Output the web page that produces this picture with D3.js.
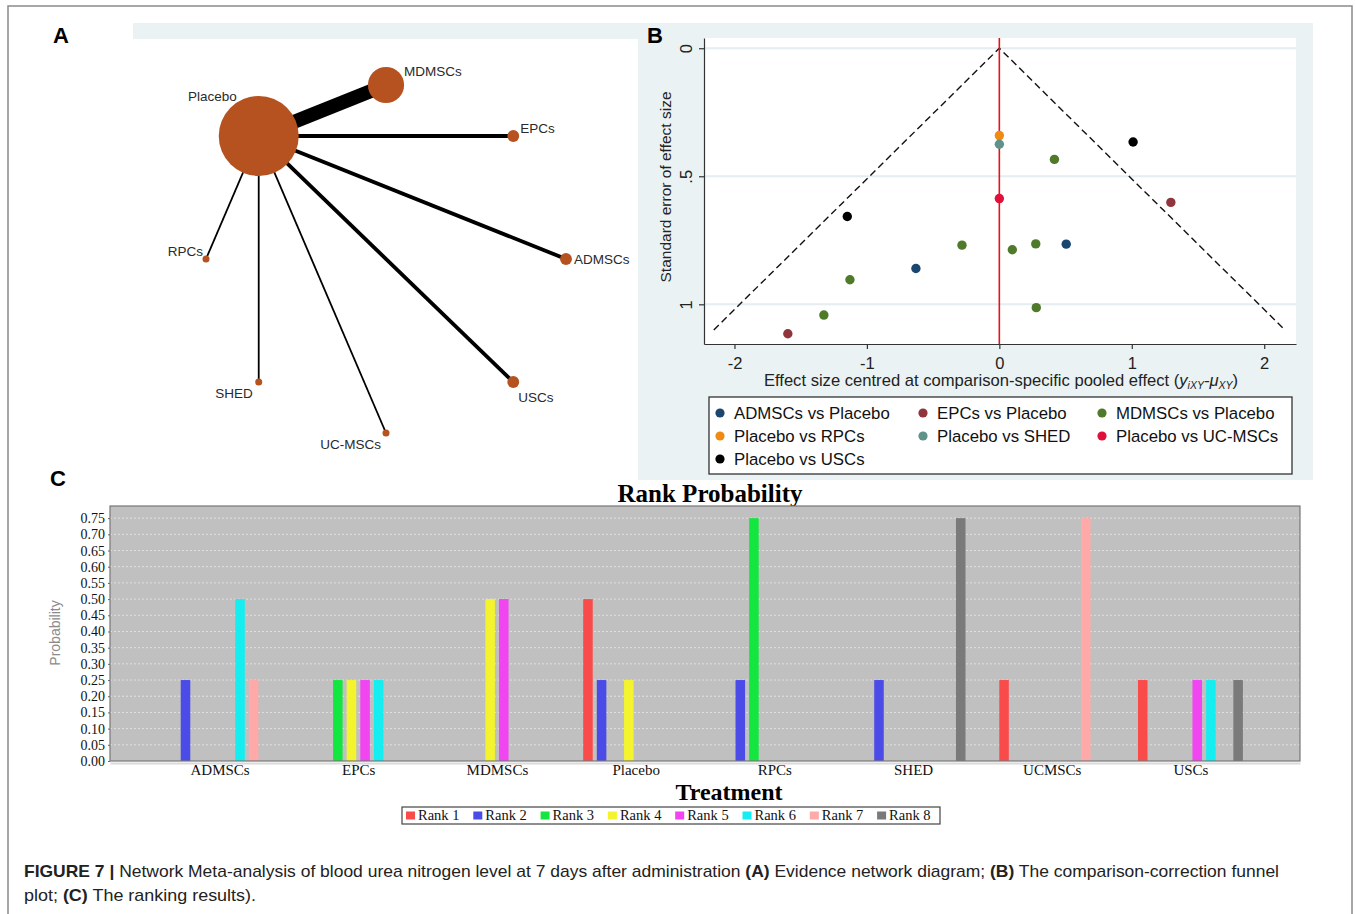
<!DOCTYPE html>
<html>
<head>
<meta charset="utf-8">
<script src="https://cdn.jsdelivr.net/npm/d3@7"></script>
<style>
  body { margin: 0; background: #fff; }
  svg { display: block; }
</style>
</head>
<body>
<svg id="fig" width="1356" height="914"></svg>
<script>
// ---------- panel A: evidence network ----------
var netNodes    = ["Placebo", "MDMSCs", "EPCs", "ADMSCs", "USCs", "UC-MSCs", "SHED", "RPCs"];
var netStudies  = [16, 7, 2, 2, 2, 1, 1, 1];
var edgeTargets = ["MDMSCs", "EPCs", "ADMSCs", "USCs", "UC-MSCs", "SHED", "RPCs"];
var edgeStudies = [7, 2, 2, 2, 1, 1, 1];

// ---------- panel B: comparison-adjusted funnel plot ----------
var funnelComparisons = ["ADMSCs vs Placebo", "EPCs vs Placebo", "MDMSCs vs Placebo",
                         "Placebo vs RPCs", "Placebo vs SHED", "Placebo vs UC-MSCs", "Placebo vs USCs"];
// [effect centred, standard error]
var admscsPoints = [[-0.63, 0.86], [0.505, 0.765]];
var epcsPoints   = [[1.295, 0.602], [-1.597, 1.115]];
var mdmscsPoints = [[0.416, 0.434], [-0.282, 0.769], [0.098, 0.787], [0.275, 0.764],
                    [-1.128, 0.904], [-1.325, 1.042], [0.279, 1.013]];
var rpcsPoints   = [[0, 0.341]];
var shedPoints   = [[0, 0.375]];
var ucmscsPoints = [[0, 0.587]];
var uscsPoints   = [[1.01, 0.366], [-1.148, 0.657]];
var funnelSeMax = 1.1;
var funnelZ = 1.96;
var funnelXTicks = [-2, -1, 0, 1, 2];
var funnelYTicks = [0, 0.5, 1];
var funnelYLabels = ["0", ".5", "1"];

// ---------- panel C: rank probability ----------
var treatments = ["ADMSCs", "EPCs", "MDMSCs", "Placebo", "RPCs", "SHED", "UCMSCs", "USCs"];
var rankNames  = ["Rank 1", "Rank 2", "Rank 3", "Rank 4", "Rank 5", "Rank 6", "Rank 7", "Rank 8"];
var rank1 = [0,    0,    0,   0.5,  0,    0,    0.25, 0.25];
var rank2 = [0.25, 0,    0,   0.25, 0.25, 0.25, 0,    0];
var rank3 = [0,    0.25, 0,   0,    0.75, 0,    0,    0];
var rank4 = [0,    0.25, 0.5, 0.25, 0,    0,    0,    0];
var rank5 = [0,    0.25, 0.5, 0,    0,    0,    0,    0.25];
var rank6 = [0.5,  0.25, 0,   0,    0,    0,    0,    0.25];
var rank7 = [0.25, 0,    0,   0,    0,    0,    0.75, 0];
var rank8 = [0,    0,    0,   0,    0,    0.75, 0,    0.25];
var probTicks = [0, 0.05, 0.10, 0.15, 0.20, 0.25, 0.30, 0.35, 0.40, 0.45, 0.50, 0.55, 0.60, 0.65, 0.70, 0.75];

var svg = d3.select("#fig");
var sans = "'Liberation Sans', Arial, sans-serif";
var serif = "'Liberation Serif', 'Times New Roman', serif";

// outer frame
svg.append("rect").attr("x", 8).attr("y", 6).attr("width", 1344).attr("height", 930)
    .attr("fill", "#fff").attr("stroke", "#8a8a8a").attr("stroke-width", 1.5);

// ================= Panel A =================
var gA = svg.append("g");
gA.append("rect").attr("x", 133).attr("y", 23).attr("width", 505).attr("height", 16).attr("fill", "#eaf2f3");
gA.append("text").attr("x", 53).attr("y", 43).text("A")
    .attr("font-family", sans).attr("font-weight", "bold").attr("font-size", 22);

var ringX = d3.scaleLinear().domain([-1, 1]).range([206, 566]);
var ringY = d3.scaleLinear().domain([-1, 1]).range([85, 433]);
var nodeR = d3.scaleLinear().domain([1, 16]).range([3.5, 40]);
var edgeW = d3.scaleLinear().domain([1, 7]).range([1.8, 14]);

var nodes = netNodes.map(function (name, i)
{
    var ang = (-135 + i * 45) * Math.PI / 180;
    return { name: name, studies: netStudies[i], x: ringX(Math.cos(ang)), y: ringY(Math.sin(ang)) };
});
var byName = {};
nodes.forEach(function (n) { byName[n.name] = n; });

var edges = edgeTargets.map(function (t, i) { return { source: byName["Placebo"], target: byName[t], studies: edgeStudies[i] }; });

gA.selectAll("line.edge").data(edges).enter().append("line")
    .attr("class", "edge")
    .attr("x1", function (d) { return d.source.x; })
    .attr("y1", function (d) { return d.source.y; })
    .attr("x2", function (d) { return d.target.x; })
    .attr("y2", function (d) { return d.target.y; })
    .attr("stroke", "#000")
    .attr("stroke-width", function (d) { return edgeW(d.studies); });

gA.selectAll("circle.node").data(nodes).enter().append("circle")
    .attr("class", "node")
    .attr("cx", function (d) { return d.x; })
    .attr("cy", function (d) { return d.y; })
    .attr("r", function (d) { return nodeR(d.studies); })
    .attr("fill", "#b5521f");

// label placement around each node (dx, dy, anchor)
var labelPlace = {
    "Placebo": [-22, -35, "end"], "MDMSCs": [18, -9, "start"], "EPCs": [7, -3, "start"],
    "ADMSCs": [8, 5, "start"], "USCs": [5, 20, "start"], "UC-MSCs": [-5, 16, "end"],
    "SHED": [-6, 16, "end"], "RPCs": [-3, -3, "end"]
};
gA.selectAll("text.nlab").data(nodes).enter().append("text")
    .attr("class", "nlab")
    .attr("x", function (d) { return d.x + labelPlace[d.name][0]; })
    .attr("y", function (d) { return d.y + labelPlace[d.name][1]; })
    .attr("text-anchor", function (d) { return labelPlace[d.name][2]; })
    .attr("font-family", sans).attr("font-size", 13.5).attr("fill", "#2a2a2a")
    .text(function (d) { return d.name; });

// ================= Panel B =================
var gB = svg.append("g");
gB.append("rect").attr("x", 638).attr("y", 23).attr("width", 675).attr("height", 457).attr("fill", "#eaf2f3");
gB.append("rect").attr("x", 704).attr("y", 38).attr("width", 592).attr("height", 306).attr("fill", "#fff");
gB.append("text").attr("x", 647).attr("y", 43).text("B")
    .attr("font-family", sans).attr("font-weight", "bold").attr("font-size", 22);

var xB = d3.scaleLinear().domain([-2.23, 2.24]).range([704, 1296]);
var yB = d3.scaleLinear().domain([-0.04, 1.155]).range([38, 344]);

gB.selectAll("line.grid").data(funnelYTicks).enter().append("line")
    .attr("class", "grid")
    .attr("x1", 704).attr("x2", 1296)
    .attr("y1", function (d) { return yB(d); }).attr("y2", function (d) { return yB(d); })
    .attr("stroke", "#e4eef0").attr("stroke-width", 2);

var funnelLine = d3.line()
    .x(function (d) { return xB(d[0]); })
    .y(function (d) { return yB(d[1]); });
gB.append("path")
    .datum([[-funnelZ * funnelSeMax, funnelSeMax], [0, 0], [funnelZ * funnelSeMax, funnelSeMax]])
    .attr("d", funnelLine)
    .attr("fill", "none").attr("stroke", "#111").attr("stroke-width", 1.4).attr("stroke-dasharray", "7,4");

gB.append("line").attr("x1", xB(0)).attr("x2", xB(0)).attr("y1", 38).attr("y2", 344)
    .attr("stroke", "#e8101a").attr("stroke-width", 1.6);

var xAxisB = d3.axisBottom(xB).tickValues(funnelXTicks).tickSize(5).tickSizeOuter(0)
    .tickFormat(function (d) { return String(d); });
var gxB = gB.append("g").attr("transform", "translate(0,344)").call(xAxisB);
gxB.selectAll("text").attr("font-family", sans).attr("font-size", 16.5).attr("fill", "#222").attr("dy", "1.0em");

var yAxisB = d3.axisLeft(yB).tickValues(funnelYTicks).tickSize(5).tickSizeOuter(0)
    .tickFormat(function (d, i) { return funnelYLabels[i]; });
var gyB = gB.append("g").attr("transform", "translate(704,0)").call(yAxisB);
gyB.selectAll("text")
    .attr("transform", "rotate(-90)")
    .attr("x", 0).attr("y", -12).attr("dy", 0)
    .attr("text-anchor", "middle")
    .attr("font-family", sans).attr("font-size", 16.5).attr("fill", "#222");
gB.selectAll(".domain, .tick line").attr("stroke", "#333").attr("stroke-width", 1.2);

gB.append("text")
    .attr("transform", "translate(671,187) rotate(-90)")
    .attr("text-anchor", "middle")
    .attr("font-family", sans).attr("font-size", 15.5).attr("fill", "#222")
    .text("Standard error of effect size");

var xt = gB.append("text").attr("x", 1001).attr("y", 386).attr("text-anchor", "middle")
    .attr("font-family", sans).attr("font-size", 16.6).attr("fill", "#222");
xt.append("tspan").text("Effect size centred at comparison-specific pooled effect (");
xt.append("tspan").attr("font-style", "italic").text("y");
xt.append("tspan").attr("font-style", "italic").attr("font-size", 10.5).attr("baseline-shift", "-3").text("iXY");
xt.append("tspan").attr("font-style", "italic").text("-\u03bc");
xt.append("tspan").attr("font-style", "italic").attr("font-size", 10.5).attr("baseline-shift", "-3").text("XY");
xt.append("tspan").text(")");

var funnelColors = ["#1a476f", "#90353b", "#4f7a2a", "#ef8a12", "#5f928a", "#e0103a", "#000000"];
var funnelSets = [admscsPoints, epcsPoints, mdmscsPoints, rpcsPoints, shedPoints, ucmscsPoints, uscsPoints];

funnelSets.forEach(function (pts, gi)
{
    gB.selectAll("circle.g" + gi).data(pts).enter().append("circle")
        .attr("class", "g" + gi)
        .attr("cx", function (d) { return xB(d[0]); })
        .attr("cy", function (d) { return yB(d[1]); })
        .attr("r", 4.7)
        .attr("fill", funnelColors[gi]);
});

// legend
gB.append("rect").attr("x", 709).attr("y", 397).attr("width", 583).attr("height", 77)
    .attr("fill", "#fff").attr("stroke", "#333").attr("stroke-width", 1.3);
var legColX = [720, 923, 1102];
var legRowY = [413, 436, 459];
var legB = gB.selectAll("g.legB").data(funnelComparisons).enter().append("g")
    .attr("class", "legB")
    .attr("transform", function (d, i) { return "translate(" + legColX[i % 3] + "," + legRowY[Math.floor(i / 3)] + ")"; });
legB.append("circle").attr("r", 4.6).attr("fill", function (d, i) { return funnelColors[i]; });
legB.append("text").attr("x", 14).attr("dy", "0.36em")
    .attr("font-family", sans).attr("font-size", 16.8).attr("fill", "#111")
    .text(function (d) { return d; });

// ================= Panel C =================
var gC = svg.append("g");
gC.append("text").attr("x", 50).attr("y", 486).text("C")
    .attr("font-family", sans).attr("font-weight", "bold").attr("font-size", 22);

var rankSeries = [rank1, rank2, rank3, rank4, rank5, rank6, rank7, rank8];
var rankColors = ["#fa4b4b", "#4b4be8", "#14e640", "#f4f42e", "#f045f0", "#14eef0", "#ffa9a9", "#7a7a7a"];

var xC = d3.scalePoint().domain(treatments).range([110, 1300]).padding(0.79);
var inner = d3.scaleBand().domain(rankNames).range([-54.5, 54.5]).paddingInner(0.3).paddingOuter(0.15);
var yC = d3.scaleLinear().domain([0, 0.7875]).range([761, 506]);

gC.append("text").attr("x", 710).attr("y", 502).attr("text-anchor", "middle")
    .attr("font-family", serif).attr("font-weight", "bold").attr("font-size", 25).text("Rank Probability");

gC.append("rect").attr("x", 110).attr("y", 506).attr("width", 1190).attr("height", 255).attr("fill", "#c0c0c0");

gC.selectAll("line.gridC").data(probTicks.slice(1)).enter().append("line")
    .attr("class", "gridC")
    .attr("x1", 110).attr("x2", 1300)
    .attr("y1", function (d) { return yC(d); }).attr("y2", function (d) { return yC(d); })
    .attr("stroke", "#e8e8e8").attr("stroke-width", 0.8).attr("stroke-dasharray", "2,2");

var bars = [];
rankSeries.forEach(function (vals, ri)
{
    vals.forEach(function (v, ti)
    {
        if (v > 0) bars.push({ t: treatments[ti], r: rankNames[ri], v: v, c: rankColors[ri] });
    });
});
gC.selectAll("rect.bar").data(bars).enter().append("rect")
    .attr("class", "bar")
    .attr("x", function (d) { return xC(d.t) + inner(d.r); })
    .attr("width", inner.bandwidth())
    .attr("y", function (d) { return yC(d.v); })
    .attr("height", function (d) { return yC(0) - yC(d.v); })
    .attr("fill", function (d) { return d.c; });

gC.append("rect").attr("x", 110).attr("y", 506).attr("width", 1190).attr("height", 255)
    .attr("fill", "none").attr("stroke", "#777").attr("stroke-width", 1.2);

var xAxisC = d3.axisBottom(xC).tickSize(0);
var gxC = gC.append("g").attr("transform", "translate(0,763)").call(xAxisC);
gxC.select(".domain").attr("stroke", "#dadada").attr("stroke-width", 2);
gxC.selectAll("text").attr("font-family", serif).attr("font-size", 15).attr("fill", "#111").attr("dy", "0.6em");

var yAxisC = d3.axisLeft(yC).tickValues(probTicks).tickSize(2).tickSizeOuter(0)
    .tickFormat(d3.format(".2f"));
var gyC = gC.append("g").attr("transform", "translate(110,0)").call(yAxisC);
gyC.select(".domain").remove();
gyC.selectAll(".tick line").attr("stroke", "#666");
gyC.selectAll("text").attr("font-family", serif).attr("font-size", 14).attr("fill", "#111").attr("x", -5);

gC.append("text").attr("transform", "translate(60,633) rotate(-90)").attr("text-anchor", "middle")
    .attr("font-family", sans).attr("font-size", 14).attr("fill", "#8a8a8a").text("Probability");

gC.append("text").attr("x", 729).attr("y", 800).attr("text-anchor", "middle")
    .attr("font-family", serif).attr("font-weight", "bold").attr("font-size", 24).text("Treatment");

gC.append("rect").attr("x", 402).attr("y", 807).attr("width", 538).attr("height", 17)
    .attr("fill", "#fff").attr("stroke", "#444").attr("stroke-width", 1.2);
var legC = gC.selectAll("g.legC").data(rankNames).enter().append("g")
    .attr("class", "legC")
    .attr("transform", function (d, i) { return "translate(" + (406 + i * 67.3) + ",815.5)"; });
legC.append("rect").attr("x", 0).attr("y", -4).attr("width", 9).attr("height", 8)
    .attr("fill", function (d, i) { return rankColors[i]; });
legC.append("text").attr("x", 12).attr("dy", "0.34em")
    .attr("font-family", serif).attr("font-size", 14.5).attr("fill", "#111")
    .text(function (d) { return d; });

// ================= caption =================
var cap1 = svg.append("text").attr("x", 24).attr("y", 877)
    .attr("font-family", "'Liberation Sans Narrow', 'Liberation Sans', Arial, sans-serif")
    .attr("font-size", 17).attr("fill", "#222")
    .attr("textLength", 1255).attr("lengthAdjust", "spacingAndGlyphs");
cap1.append("tspan").attr("font-weight", "bold").text("FIGURE 7 |");
cap1.append("tspan").text(" Network Meta-analysis of blood urea nitrogen level at 7 days after administration ");
cap1.append("tspan").attr("font-weight", "bold").text("(A)");
cap1.append("tspan").text(" Evidence network diagram; ");
cap1.append("tspan").attr("font-weight", "bold").text("(B)");
cap1.append("tspan").text(" The comparison-correction funnel");

var cap2 = svg.append("text").attr("x", 24).attr("y", 901)
    .attr("font-family", "'Liberation Sans Narrow', 'Liberation Sans', Arial, sans-serif")
    .attr("font-size", 17).attr("fill", "#222")
    .attr("textLength", 232).attr("lengthAdjust", "spacingAndGlyphs");
cap2.append("tspan").text("plot; ");
cap2.append("tspan").attr("font-weight", "bold").text("(C)");
cap2.append("tspan").text(" The ranking results).");
</script>
</body>
</html>
